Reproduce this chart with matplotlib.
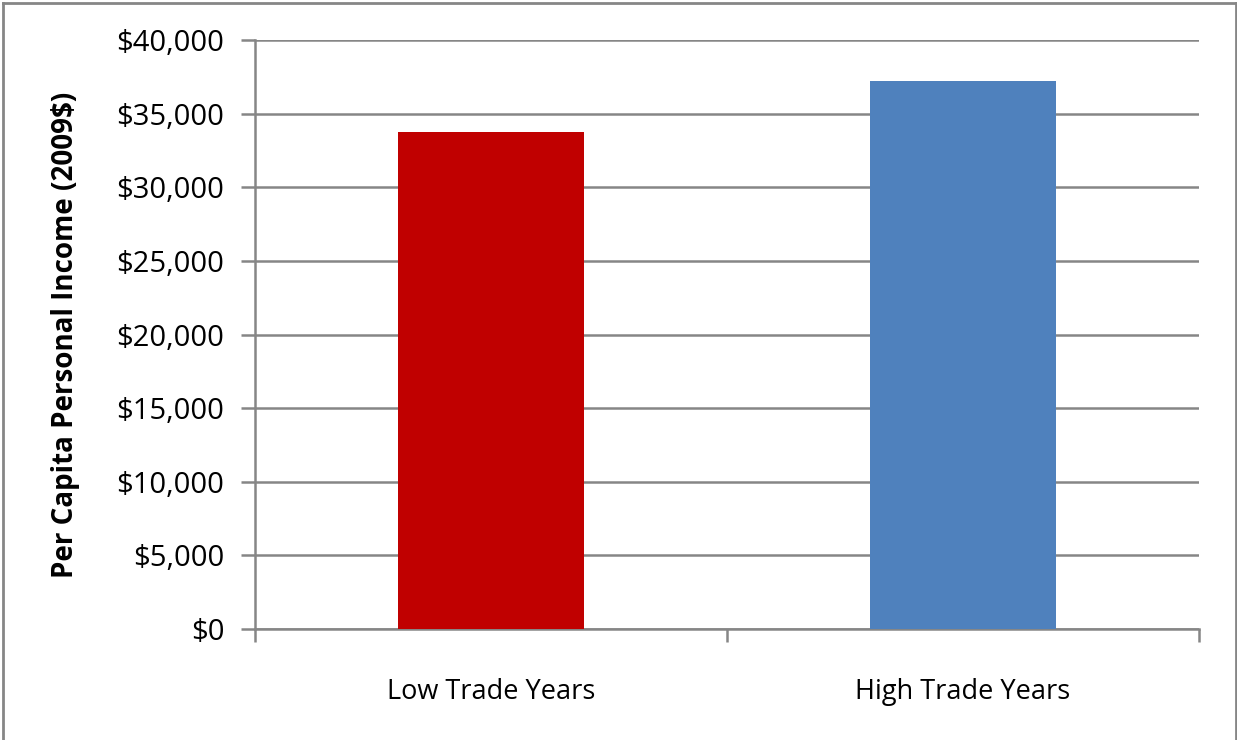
import matplotlib
matplotlib.use("Agg")
import matplotlib.pyplot as plt
from matplotlib.ticker import FuncFormatter, MultipleLocator, FixedLocator
from matplotlib.lines import Line2D

categories = ["Low Trade Years", "High Trade Years"]
values = [33750, 37200]
colors = ["#C00000", "#4F81BD"]
ylabel = "Per Capita Personal Income (2009$)"

plt.rcParams['font.family'] = ['Open Sans', 'DejaVu Sans']

fig = plt.figure(figsize=(12.37, 7.40), dpi=100)
ax = fig.add_axes([255/1237, 1-629/740, (1199-255)/1237, (629-40)/740])

x = range(len(categories))
ax.bar(x, values, width=0.396, color=colors, zorder=3)
ax.set_xlim(-0.5, len(categories) - 0.5)
ax.set_ylim(0, 40000)
ax.yaxis.set_major_locator(MultipleLocator(5000))
ax.yaxis.set_major_formatter(FuncFormatter(lambda v, p: "${:,.0f}".format(v)))
ax.grid(axis='y', color='#868686', linewidth=1.8, zorder=0)
ax.set_axisbelow(True)

ax.set_xticks(list(x))
ax.set_xticklabels(categories, fontsize=19.5)
ax.tick_params(axis='x', length=0, pad=35)
ax.xaxis.set_minor_locator(FixedLocator([-0.5, 0.5, 1.5]))
ax.tick_params(axis='x', which='minor', length=9, width=1.8, color='#868686')
ax.tick_params(axis='y', length=10, width=1.8, color='#868686', labelsize=21, pad=12)

for s in ['top', 'right']:
    ax.spines[s].set_visible(False)
for s in ['left', 'bottom']:
    ax.spines[s].set_color('#868686')
    ax.spines[s].set_linewidth(1.8)

ax.set_ylabel(ylabel, fontsize=20, fontweight='bold', labelpad=26)

bx0, bx1 = 2.5/1237, 1235.5/1237
by = 1 - 2.5/740
for xs, ys in [([bx0, bx1], [by, by]), ([bx0, bx0], [0, by]), ([bx1, bx1], [0, by])]:
    fig.add_artist(Line2D(xs, ys, transform=fig.transFigure, color='#868686', linewidth=2))

fig.savefig("out.png", dpi=100)
